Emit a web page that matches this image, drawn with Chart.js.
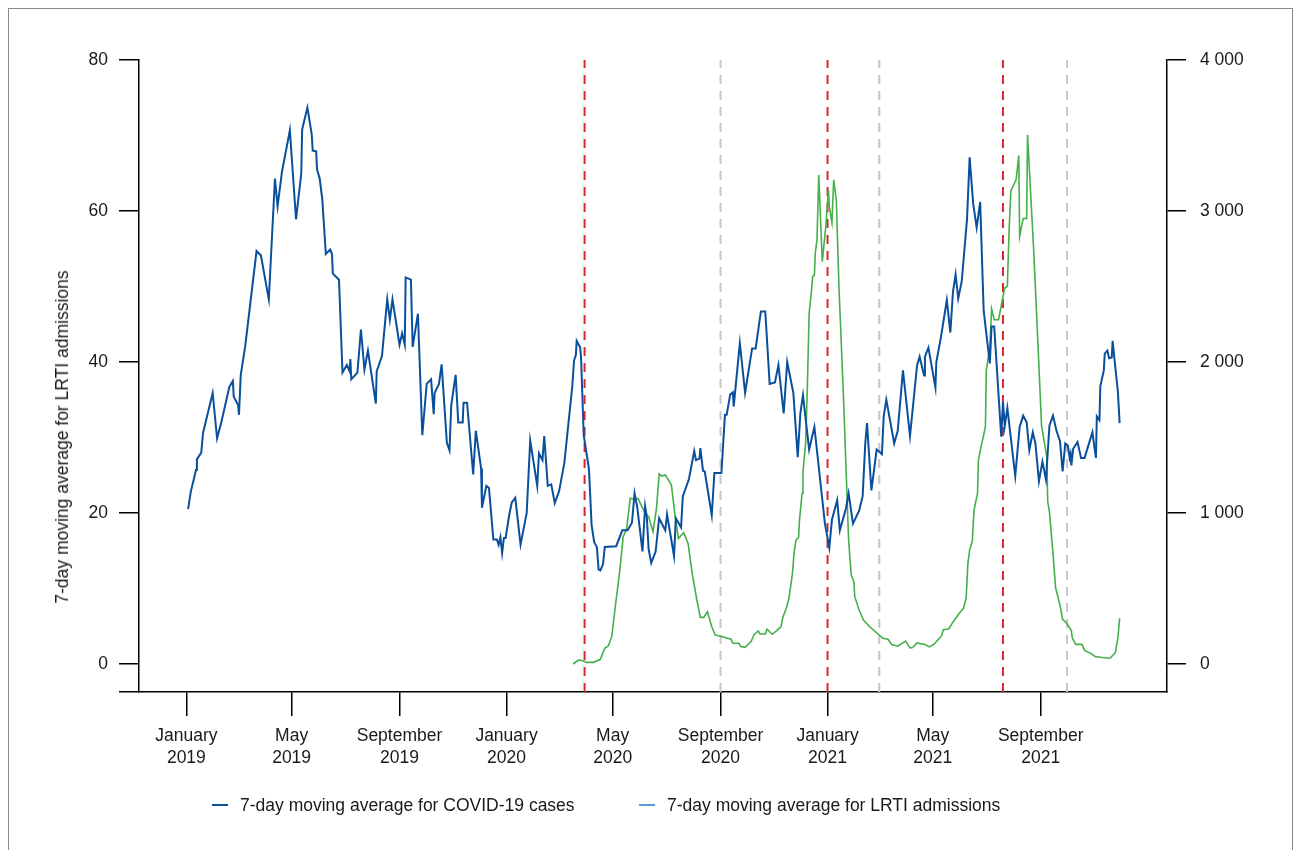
<!DOCTYPE html>
<html>
<head>
<meta charset="utf-8">
<script src="https://cdn.jsdelivr.net/npm/chart.js@4.4.1/dist/chart.umd.min.js"></script>
<style>
  body{margin:0;background:#fff;font-family:"Liberation Sans",Arial,sans-serif;}
  #frame{position:absolute;left:8px;top:8px;width:1285px;height:900px;border:1px solid #8a8a8a;box-sizing:border-box;}
  #c{position:absolute;left:0;top:0;}
  .lg{position:absolute;top:794px;font-size:17.5px;color:#1a1a1a;white-space:nowrap;line-height:22px;}
  .lg i{display:inline-block;width:16px;height:2px;vertical-align:middle;margin-right:12px;position:relative;top:-1px;}
  #ytitle{position:absolute;left:62px;top:437px;transform:translate(-50%,-50%) rotate(-90deg);
    font-size:17.5px;color:#1a1a1a;white-space:nowrap;line-height:20px;}
</style>
</head>
<body>
<div id="frame"></div>
<canvas id="c" width="1295" height="850"></canvas>
<div id="ytitle">7-day moving average for LRTI admissions</div>
<div class="lg" style="left:212px"><i style="background:#0a4f9c"></i>7-day moving average for COVID-19 cases</div>
<div class="lg" style="left:639px"><i style="background:#5b9bd5"></i>7-day moving average for LRTI admissions</div>
<script>
// --- Data (x = days since 1 January 2019) ---
const blueDays = [2,5,11,12,17,19,30,35,40,49,53,54,59,60,62,67,80,85,94,101,104,109,118,125,131,132,138,143,144,148,149,152,155,159,164,166,167,174,178,183,186,187,188,195,199,203,207,216,217,223,229,232,235,243,246,249,250,256,258,264,269,274,279,282,283,288,291,297,300,302,307,310,315,316,320,327,330,336,337,342,345,350,354,356,358,360,362,364,368,371,375,381,388,392,400,402,406,408,412,416,420,425,431,440,442,444,445,449,450,453,459,462,465,468,470,472,475,477,490,497,503,508,511,514,520,523,525,527,530,535,539,546,548,556,558,564,566,573,579,581,585,586,589,591,599,602,610,614,616,620,623,624,631,637,645,649,655,660,665,671,675,681,685,692,697,700,703,710,716,728,733,736,742,745,752,755,760,767,771,774,776,781,787,793,795,798,807,811,817,825,833,836,841,842,846,854,855,860,867,871,874,877,880,884,890,893,897,901,905,909,916,918,921,929,931,933,936,945,950,954,958,961,965,968,972,976,980,984,988,992,996,999,1002,1005,1007,1008,1009,1011,1016,1020,1024,1033,1035,1037,1038,1041,1042,1046,1047,1050,1052,1055,1056,1059,1062,1064];
const blueValues = [20.5,22.8,25.7,27.1,28.0,30.6,35.9,29.9,32.1,36.7,37.5,35.4,34.3,33.0,38.3,42.0,54.7,54.1,48.3,64.3,60.6,65.2,70.7,58.9,65.0,70.8,73.7,70.1,68.0,67.9,65.5,64.3,61.5,54.3,54.9,54.3,51.7,50.9,38.6,39.6,38.8,40.4,37.7,38.6,44.3,39.0,41.5,34.5,38.8,40.8,48.3,45.6,48.3,42.3,43.8,42.3,51.2,50.9,42.0,46.4,30.3,37.1,37.7,33.1,35.9,37.1,39.7,29.3,28.3,34.3,38.3,32.0,32.0,34.6,34.6,25.1,30.9,25.9,20.7,23.6,23.3,16.5,16.5,15.8,16.8,14.7,16.7,16.7,19.7,21.4,22.0,15.8,20.0,29.6,23.6,27.9,27.0,30.2,23.6,23.8,21.3,22.9,26.7,36.8,40.2,40.9,42.8,41.9,40.6,30.3,25.8,18.4,16.1,15.5,12.5,12.4,13.2,15.5,15.6,17.7,17.7,18.7,22.6,20.8,14.9,20.9,19.4,15.2,13.4,14.9,19.3,17.7,19.8,14.3,19.3,18.1,22.2,24.5,28.2,27.0,27.2,28.6,25.6,25.5,19.7,25.3,25.3,33.0,33.0,35.7,36.0,34.1,42.5,35.9,41.8,41.8,46.7,46.7,37.1,37.3,39.6,33.2,40.0,35.9,27.4,33.2,35.6,28.4,31.4,18.6,15.4,19.1,21.7,17.7,20.6,22.6,18.6,20.3,22.2,29.2,31.9,23.0,28.4,27.8,32.8,35.0,29.2,30.9,38.9,30.2,39.5,40.7,38.2,40.7,41.9,36.6,40.0,43.1,48.2,43.9,49.3,51.6,48.4,50.7,58.9,67.1,61.0,57.8,61.2,46.8,39.8,44.7,44.7,30.1,34.7,31.5,33.9,24.9,31.4,32.9,32.0,28.3,30.7,29.2,24.2,26.8,24.4,31.6,32.9,30.9,29.5,25.5,29.2,28.9,27.3,27.8,26.3,28.5,29.4,27.3,27.3,30.7,28.9,27.3,32.8,32.3,36.8,38.9,41.1,41.5,40.5,40.6,42.8,39.4,36.1,31.9];

const greenDays = [441,447,452,456,464,472,477,481,485,489,494,498,502,506,510,515,519,523,527,532,536,539,542,546,548,553,557,561,567,572,577,582,586,590,594,599,603,608,621,623,630,632,637,644,647,652,654,660,662,668,673,678,680,684,687,689,691,693,695,698,699,702,703,706,708,710,713,714,716,717,719,721,725,729,732,733,736,738,741,744,749,755,758,761,762,767,772,779,787,794,800,804,811,820,825,828,833,842,847,852,861,863,869,874,881,886,889,891,893,896,898,902,903,906,910,911,912,916,918,921,926,928,931,933,936,938,940,946,949,950,954,958,959,966,971,975,979,981,982,984,988,991,996,999,1004,1007,1009,1010,1014,1021,1024,1032,1036,1044,1053,1059,1062,1064];
const greenValues = [0,26,22,11,11,31,104,119,181,380,611,843,899,1097,1091,1097,1046,1002,976,876,1031,1258,1245,1252,1234,1185,987,832,870,799,589,424,309,309,346,247,192,185,164,137,137,115,110,150,192,219,199,199,230,197,221,247,309,369,435,517,601,744,821,839,954,1131,1274,1462,1837,2323,2488,2565,2576,2720,2813,3239,2665,2896,3139,3029,2923,3206,3073,2499,1793,821,589,545,446,358,291,247,207,170,164,129,118,152,107,109,140,129,113,129,186,227,232,277,334,369,437,665,756,813,1019,1132,1349,1440,1543,1577,1943,2102,2353,2280,2280,2341,2433,2490,2501,2878,3133,3208,3368,2832,2950,2950,3504,2741,2102,1577,1440,1370,1076,1007,734,505,390,296,268,239,221,173,130,130,90,67,50,43,38,74,173,303];

const tickDays = [0,120,243,365,486,609,731,851,974];
const tickLabels = [['January','2019'],['May','2019'],['September','2019'],['January','2020'],['May','2020'],['September','2020'],['January','2021'],['May','2021'],['September','2021']];
const leftTicks = [0,20,40,60,80];
const rightTicks = [0,1000,2000,3000,4000];
const redLineDays = [454,731,931];
const greyLineDays = [609,790,1004];

// --- Helpers ---
const X_MIN = -54, X_MAX = 1118;
const L_MIN = -3.709, L_MAX = 80;
const R_MIN = -185.4, R_MAX = 4000;
const FONT = {family:'"Liberation Sans", Arial, sans-serif', size:17.5};
const pts = (xs, ys) => xs.map((x,i)=>({x, y:ys[i]}));
function vline(day, color){
  return { data:[{x:day,y:L_MIN},{x:day,y:L_MAX}], yAxisID:'y', borderColor:color,
    borderWidth:2, borderDash:[9,7], pointRadius:0, order:3 };
}

const datasets = [
  { label:'LRTI', data:pts(blueDays, blueValues), yAxisID:'y', borderColor:'#0a4f9c',
    borderWidth:2, pointRadius:0, tension:0, order:0 },
  { label:'COVID', data:pts(greenDays, greenValues), yAxisID:'y1', borderColor:'#45b04a',
    borderWidth:1.6, pointRadius:0, tension:0, order:1 },
  ...redLineDays.map(d=>vline(d,'#d7262e')),
  ...greyLineDays.map(d=>vline(d,'#c6c6c6'))
];

new Chart(document.getElementById('c').getContext('2d'), {
  type:'line',
  data:{ datasets },
  options:{
    responsive:false, animation:false, devicePixelRatio:1,
    layout:{ padding:{ top:60, left:0, right:0, bottom:0 } },
    plugins:{ legend:{display:false}, tooltip:{enabled:false} },
    scales:{
      x:{
        type:'linear', position:'bottom', min:X_MIN, max:X_MAX,
        afterBuildTicks: s => { s.ticks = tickDays.map(v=>({value:v})); },
        afterFit: s => { s.height = 158; },
        ticks:{ autoSkip:false, maxRotation:0, color:'#1a1a1a', font:{...FONT, lineHeight:1.28}, padding:9,
          callback:(v,i)=>tickLabels[i] },
        grid:{ drawOnChartArea:false, tickLength:24, color:'#000', lineWidth:1.5 },
        border:{ color:'#000', width:1.5 }
      },
      y:{
        position:'left', min:L_MIN, max:L_MAX,
        afterBuildTicks: s => { s.ticks = [L_MIN, ...leftTicks].map(v=>({value:v})); },
        afterFit: s => { s.width = 139; },
        ticks:{ autoSkip:false, color:'#1a1a1a', font:FONT, padding:11,
          callback:(v,i)=> i===0 ? '' : String(v) },
        grid:{ drawOnChartArea:false, tickLength:20, color:'#000', lineWidth:1.5 },
        border:{ color:'#000', width:1.5 }
      },
      y1:{
        position:'right', min:R_MIN, max:R_MAX,
        afterBuildTicks: s => { s.ticks = rightTicks.map(v=>({value:v})); },
        afterFit: s => { s.width = 128; },
        ticks:{ autoSkip:false, color:'#1a1a1a', font:FONT, padding:14,
          callback:v => v===0 ? '0' : (v/1000)+' 000' },
        grid:{ drawOnChartArea:false, tickLength:19, color:'#000', lineWidth:1.5 },
        border:{ color:'#000', width:1.5 }
      }
    }
  }
});
</script>
</body>
</html>
